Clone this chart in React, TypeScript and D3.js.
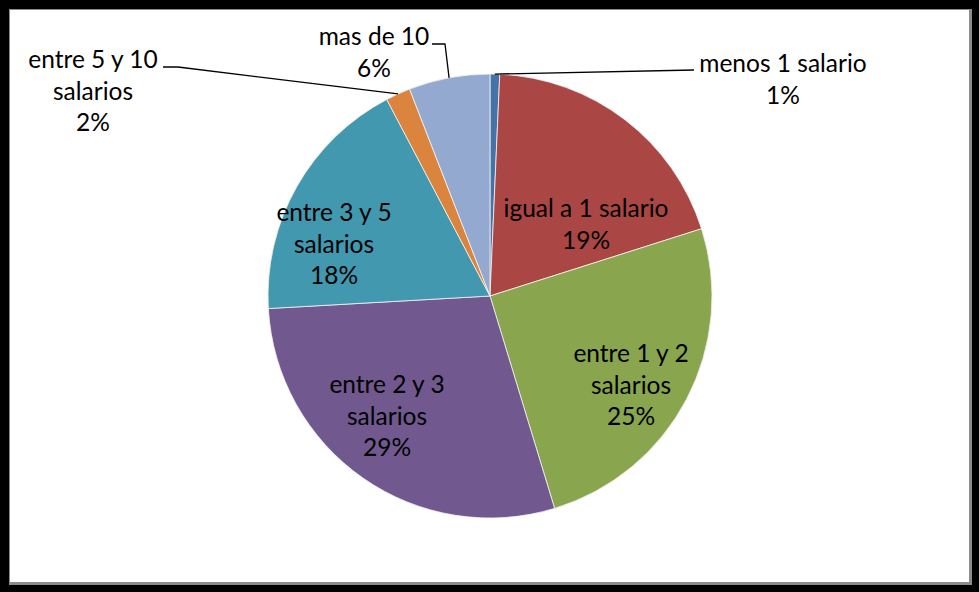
import React from "react";
import * as d3 from "d3";

const categories = [
  "menos 1 salario",
  "igual a 1 salario",
  "entre 1 y 2 salarios",
  "entre 2 y 3 salarios",
  "entre 3 y 5 salarios",
  "entre 5 y 10 salarios",
  "mas de 10",
];
const values = [0.7, 19.4, 25.2, 28.8, 18.2, 1.8, 5.9];
const colors = ["#4572A7", "#AA4643", "#89A54E", "#71588F", "#4198AF", "#DB843D", "#93A9CF"];
// label text lines (category split into lines as in the reference)
const labelLines = [
  ["menos 1 salario"],
  ["igual a 1 salario"],
  ["entre 1 y 2", "salarios"],
  ["entre 2 y 3", "salarios"],
  ["entre 3 y 5", "salarios"],
  ["entre 5 y 10", "salarios"],
  ["mas de 10"],
];
// layout: label centre x, first baseline y, outside (with leader) or not, leader anchor on label
const labelLayout = [
  { x: 783, y: 72, outside: true, ax: 694, ay: 70, elbow: null as null | [number, number] },
  { x: 586, y: 217, outside: false, ax: 0, ay: 0, elbow: null },
  { x: 631, y: 362, outside: false, ax: 0, ay: 0, elbow: null },
  { x: 387, y: 393, outside: false, ax: 0, ay: 0, elbow: null },
  { x: 334, y: 221, outside: false, ax: 0, ay: 0, elbow: null },
  { x: 93, y: 68, outside: true, ax: 163, ay: 67, elbow: [178, 67] as [number, number] },
  { x: 374, y: 45, outside: true, ax: 432, ay: 44, elbow: [445, 44] as [number, number] },
];

const W = 979;
const H = 592;
const cx = 490;
const cy = 296;
const R = 222;
const lineH = 31.5;

export default function App() {
  const total = d3.sum(values);
  const pie = d3
    .pie<number>()
    .sort(null)
    .value((d) => d)
    .startAngle(0)
    .endAngle(2 * Math.PI);
  const arcs = pie(values);
  const arcGen = d3.arc<d3.PieArcDatum<number>>().innerRadius(0).outerRadius(R);
  const edgeArc = d3.arc<d3.PieArcDatum<number>>().innerRadius(R).outerRadius(R);

  return (
    <svg
      width={W}
      height={H}
      style={{ position: "absolute", left: 0, top: 0 }}
      fontFamily="Lato, 'Open Sans', sans-serif"
    >
      <rect x={0} y={0} width={W} height={H} fill="#000" />
      <rect x={9} y={9} width={963} height={576} fill="#8c8c8c" />
      <rect x={10} y={10} width={959} height={572} fill="#fff" />
      <g transform={`translate(${cx},${cy})`}>
        {arcs.map((a, i) => (
          <path key={categories[i]} d={arcGen(a) || ""} fill={colors[i]} stroke="#f4f4f4" strokeWidth={0.8} />
        ))}
      </g>
      {arcs.map((a, i) => {
        const L = labelLayout[i];
        if (!L.outside) return null;
        const [px, py] = edgeArc.centroid(a);
        const pts: [number, number][] = [[L.ax, L.ay]];
        if (L.elbow) pts.push(L.elbow);
        pts.push([px + cx, py + cy]);
        return (
          <path
            key={"lead" + i}
            d={d3.line()(pts) || ""}
            fill="none"
            stroke="#000"
            strokeWidth={1.3}
          />
        );
      })}
      {arcs.map((a, i) => {
        const L = labelLayout[i];
        const pct = Math.round((values[i] / total) * 100) + "%";
        const lines = [...labelLines[i], pct];
        return (
          <text key={"lab" + i} fontSize={24.5} fill="#000" textAnchor="middle">
            {lines.map((t, j) => (
              <tspan key={j} x={L.x} y={L.y + j * lineH}>
                {t}
              </tspan>
            ))}
          </text>
        );
      })}
    </svg>
  );
}
